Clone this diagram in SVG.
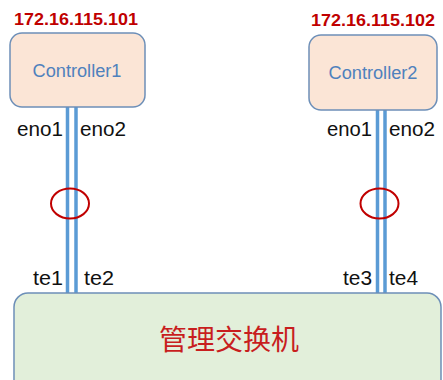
<svg xmlns="http://www.w3.org/2000/svg" width="443" height="380" viewBox="0 0 443 380">
<style>
.ctrl{fill:#fbe5d6;stroke:#6d8fb8;stroke-width:1.5}
.sw{fill:#e2efda;stroke:#6d8fb8;stroke-width:1.5}
.ip{font-family:"Liberation Sans",Arial,sans-serif;font-weight:bold;font-size:17px;fill:#c00000}
.name{font-family:"Liberation Sans",Arial,sans-serif;font-size:18px;fill:#4f81bd;text-anchor:middle}
.port{font-family:"Liberation Sans",Arial,sans-serif;font-size:20px;fill:#111}
.link{stroke:#5b9bd5;stroke-width:3.5;fill:none}
.bond{fill:none;stroke:#c00000;stroke-width:2}
.cn{font-family:"Noto Sans CJK SC",sans-serif;font-size:28px;fill:#c81e1e;text-anchor:middle}
</style>
<rect width="443" height="380" fill="#fff"/>
<g id="connectors">
<line class="link" x1="67.5" y1="107" x2="67.5" y2="294"/>
<line class="link" x1="76" y1="107" x2="76" y2="294"/>
<line class="link" x1="377.5" y1="110" x2="377.5" y2="294"/>
<line class="link" x1="385" y1="110" x2="385" y2="294"/>
<ellipse class="bond" cx="70" cy="203.5" rx="19" ry="15"/>
<ellipse class="bond" cx="379.5" cy="203.5" rx="19" ry="15"/>
<text class="port" x="17" y="136" textLength="46" lengthAdjust="spacingAndGlyphs">eno1</text>
<text class="port" x="80" y="136" textLength="46" lengthAdjust="spacingAndGlyphs">eno2</text>
<text class="port" x="327" y="136" textLength="45" lengthAdjust="spacingAndGlyphs">eno1</text>
<text class="port" x="389" y="136" textLength="46" lengthAdjust="spacingAndGlyphs">eno2</text>
<text class="port" x="33" y="285" textLength="30" lengthAdjust="spacingAndGlyphs">te1</text>
<text class="port" x="84" y="285" textLength="30" lengthAdjust="spacingAndGlyphs">te2</text>
<text class="port" x="343" y="285" textLength="29" lengthAdjust="spacingAndGlyphs">te3</text>
<text class="port" x="389" y="285" textLength="29" lengthAdjust="spacingAndGlyphs">te4</text>
</g>
<g id="controller1">
<text class="ip" x="14" y="25" textLength="124" lengthAdjust="spacingAndGlyphs">172.16.115.101</text>
<rect class="ctrl" x="10" y="33" width="135" height="74" rx="12"/>
<text class="name" x="77" y="77" textLength="89" lengthAdjust="spacingAndGlyphs">Controller1</text>
</g>
<g id="controller2">
<text class="ip" x="311" y="26" textLength="124" lengthAdjust="spacingAndGlyphs">172.16.115.102</text>
<rect class="ctrl" x="309" y="35" width="128" height="75" rx="12"/>
<text class="name" x="373" y="79" textLength="89" lengthAdjust="spacingAndGlyphs">Controller2</text>
</g>
<g id="switch">
<rect class="sw" x="14" y="293" width="427" height="110" rx="14"/>
<text class="cn" x="229" y="350">管理交换机</text>
</g>
</svg>
